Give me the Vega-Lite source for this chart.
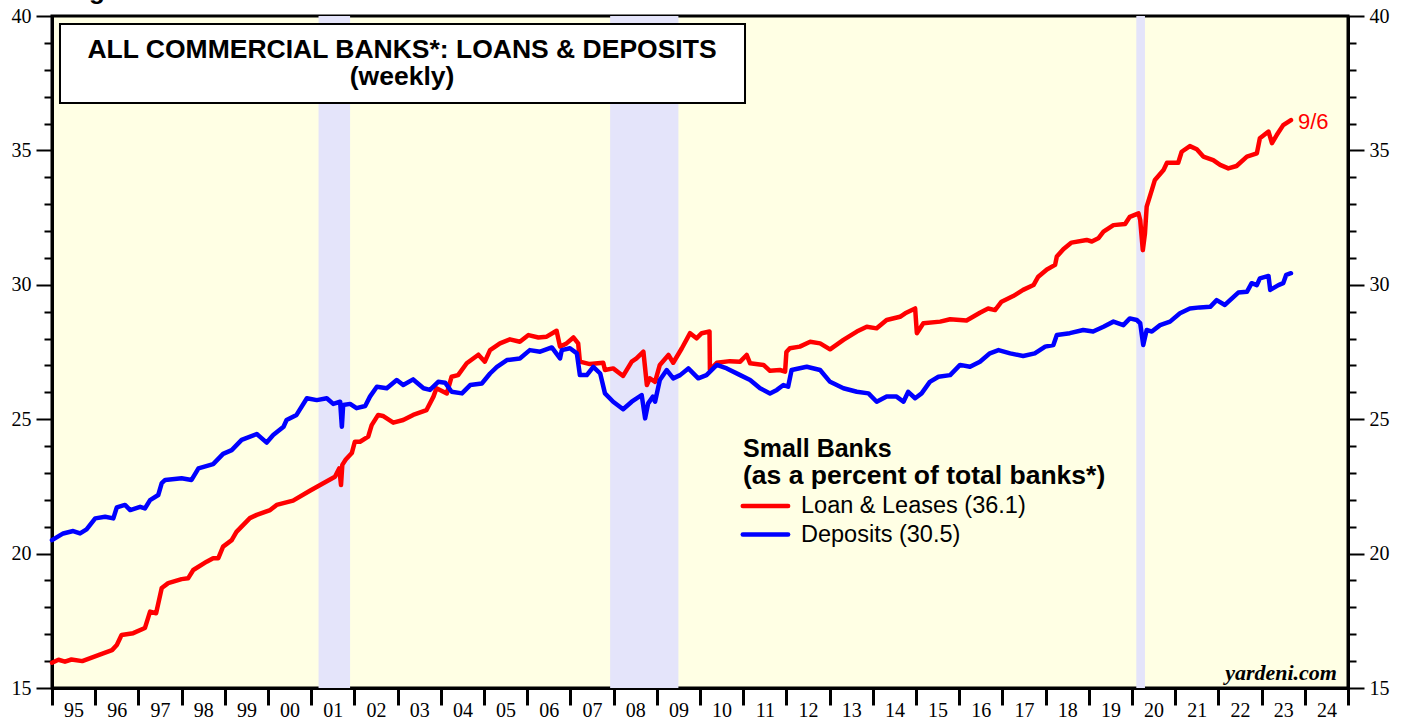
{
  "$schema": "https://vega.github.io/schema/vega-lite/v6.json",
  "width": 1296,
  "height": 672,
  "autosize": {"type": "none"},
  "padding": {"left": 52, "top": 16, "right": 65, "bottom": 31},
  "background": "white",
  "config": {
    "view": {"stroke": "black", "strokeWidth": 3, "fill": "#FFFFE4"},
    "axis": {"grid": false, "title": null, "domainColor": "black", "domainWidth": 3, "tickColor": "black", "labelColor": "black", "labelFont": "Liberation Serif", "labelFontSize": 20, "labelOverlap": false, "labelFlush": false}
  },
  "datasets": {
    "recessions": [
      {"start": 2001.17, "end": 2001.9},
      {"start": 2007.92, "end": 2009.5},
      {"start": 2020.1, "end": 2020.3}
    ],
    "banks": [
      {"year": 1995.0, "series": "Loans", "value": 15.94},
      {"year": 1995.15, "series": "Loans", "value": 16.05},
      {"year": 1995.3, "series": "Loans", "value": 15.98},
      {"year": 1995.45, "series": "Loans", "value": 16.06},
      {"year": 1995.7, "series": "Loans", "value": 16.0},
      {"year": 1995.95, "series": "Loans", "value": 16.15},
      {"year": 1996.2, "series": "Loans", "value": 16.3},
      {"year": 1996.39, "series": "Loans", "value": 16.41},
      {"year": 1996.5, "series": "Loans", "value": 16.6},
      {"year": 1996.61, "series": "Loans", "value": 16.97},
      {"year": 1996.88, "series": "Loans", "value": 17.04},
      {"year": 1997.15, "series": "Loans", "value": 17.23},
      {"year": 1997.27, "series": "Loans", "value": 17.84},
      {"year": 1997.41, "series": "Loans", "value": 17.78},
      {"year": 1997.54, "series": "Loans", "value": 18.72},
      {"year": 1997.69, "series": "Loans", "value": 18.9},
      {"year": 1998.0, "series": "Loans", "value": 19.05},
      {"year": 1998.15, "series": "Loans", "value": 19.08},
      {"year": 1998.27, "series": "Loans", "value": 19.39},
      {"year": 1998.58, "series": "Loans", "value": 19.7},
      {"year": 1998.73, "series": "Loans", "value": 19.83},
      {"year": 1998.85, "series": "Loans", "value": 19.83},
      {"year": 1998.96, "series": "Loans", "value": 20.26},
      {"year": 1999.16, "series": "Loans", "value": 20.5},
      {"year": 1999.27, "series": "Loans", "value": 20.81},
      {"year": 1999.58, "series": "Loans", "value": 21.32},
      {"year": 1999.74, "series": "Loans", "value": 21.44},
      {"year": 2000.05, "series": "Loans", "value": 21.62},
      {"year": 2000.2, "series": "Loans", "value": 21.81},
      {"year": 2000.58, "series": "Loans", "value": 21.97},
      {"year": 2000.97, "series": "Loans", "value": 22.34},
      {"year": 2001.28, "series": "Loans", "value": 22.62},
      {"year": 2001.55, "series": "Loans", "value": 22.86},
      {"year": 2001.65, "series": "Loans", "value": 23.17},
      {"year": 2001.69, "series": "Loans", "value": 22.55},
      {"year": 2001.72, "series": "Loans", "value": 23.3},
      {"year": 2001.8, "series": "Loans", "value": 23.5},
      {"year": 2001.94, "series": "Loans", "value": 23.74},
      {"year": 2002.01, "series": "Loans", "value": 24.16},
      {"year": 2002.13, "series": "Loans", "value": 24.16},
      {"year": 2002.32, "series": "Loans", "value": 24.35},
      {"year": 2002.4, "series": "Loans", "value": 24.78},
      {"year": 2002.55, "series": "Loans", "value": 25.16},
      {"year": 2002.66, "series": "Loans", "value": 25.12},
      {"year": 2002.9, "series": "Loans", "value": 24.87},
      {"year": 2003.13, "series": "Loans", "value": 24.97},
      {"year": 2003.36, "series": "Loans", "value": 25.16},
      {"year": 2003.67, "series": "Loans", "value": 25.34},
      {"year": 2003.83, "series": "Loans", "value": 25.84},
      {"year": 2003.9, "series": "Loans", "value": 26.15},
      {"year": 2004.14, "series": "Loans", "value": 25.96},
      {"year": 2004.25, "series": "Loans", "value": 26.58},
      {"year": 2004.4, "series": "Loans", "value": 26.64},
      {"year": 2004.6, "series": "Loans", "value": 27.08},
      {"year": 2004.87, "series": "Loans", "value": 27.4},
      {"year": 2005.02, "series": "Loans", "value": 27.14},
      {"year": 2005.14, "series": "Loans", "value": 27.57},
      {"year": 2005.37, "series": "Loans", "value": 27.82},
      {"year": 2005.6, "series": "Loans", "value": 27.97},
      {"year": 2005.83, "series": "Loans", "value": 27.88},
      {"year": 2006.03, "series": "Loans", "value": 28.13},
      {"year": 2006.26, "series": "Loans", "value": 28.04},
      {"year": 2006.45, "series": "Loans", "value": 28.07},
      {"year": 2006.68, "series": "Loans", "value": 28.29},
      {"year": 2006.76, "series": "Loans", "value": 27.7},
      {"year": 2006.91, "series": "Loans", "value": 27.82},
      {"year": 2007.07, "series": "Loans", "value": 28.04},
      {"year": 2007.18, "series": "Loans", "value": 27.82},
      {"year": 2007.22, "series": "Loans", "value": 27.14},
      {"year": 2007.45, "series": "Loans", "value": 27.05},
      {"year": 2007.76, "series": "Loans", "value": 27.1},
      {"year": 2007.8, "series": "Loans", "value": 26.83},
      {"year": 2007.99, "series": "Loans", "value": 26.89},
      {"year": 2008.22, "series": "Loans", "value": 26.61},
      {"year": 2008.42, "series": "Loans", "value": 27.14},
      {"year": 2008.53, "series": "Loans", "value": 27.26},
      {"year": 2008.69, "series": "Loans", "value": 27.51},
      {"year": 2008.77, "series": "Loans", "value": 26.27},
      {"year": 2008.84, "series": "Loans", "value": 26.52},
      {"year": 2008.96, "series": "Loans", "value": 26.39},
      {"year": 2009.07, "series": "Loans", "value": 27.02},
      {"year": 2009.27, "series": "Loans", "value": 27.39},
      {"year": 2009.38, "series": "Loans", "value": 27.1},
      {"year": 2009.58, "series": "Loans", "value": 27.64},
      {"year": 2009.77, "series": "Loans", "value": 28.2},
      {"year": 2009.92, "series": "Loans", "value": 28.01},
      {"year": 2010.04, "series": "Loans", "value": 28.2},
      {"year": 2010.22, "series": "Loans", "value": 28.26},
      {"year": 2010.23, "series": "Loans", "value": 26.83},
      {"year": 2010.39, "series": "Loans", "value": 27.1},
      {"year": 2010.69, "series": "Loans", "value": 27.16},
      {"year": 2010.93, "series": "Loans", "value": 27.14},
      {"year": 2011.08, "series": "Loans", "value": 27.39},
      {"year": 2011.16, "series": "Loans", "value": 27.08},
      {"year": 2011.47, "series": "Loans", "value": 27.02},
      {"year": 2011.62, "series": "Loans", "value": 26.8},
      {"year": 2011.85, "series": "Loans", "value": 26.83},
      {"year": 2011.97, "series": "Loans", "value": 26.77},
      {"year": 2012.0, "series": "Loans", "value": 27.5},
      {"year": 2012.08, "series": "Loans", "value": 27.64},
      {"year": 2012.31, "series": "Loans", "value": 27.7},
      {"year": 2012.55, "series": "Loans", "value": 27.88},
      {"year": 2012.78, "series": "Loans", "value": 27.82},
      {"year": 2013.01, "series": "Loans", "value": 27.6},
      {"year": 2013.32, "series": "Loans", "value": 27.95},
      {"year": 2013.63, "series": "Loans", "value": 28.26},
      {"year": 2013.86, "series": "Loans", "value": 28.44},
      {"year": 2014.09, "series": "Loans", "value": 28.38},
      {"year": 2014.32, "series": "Loans", "value": 28.69},
      {"year": 2014.63, "series": "Loans", "value": 28.81},
      {"year": 2014.75, "series": "Loans", "value": 28.94},
      {"year": 2014.98, "series": "Loans", "value": 29.12},
      {"year": 2015.02, "series": "Loans", "value": 28.2},
      {"year": 2015.17, "series": "Loans", "value": 28.57},
      {"year": 2015.56, "series": "Loans", "value": 28.63},
      {"year": 2015.79, "series": "Loans", "value": 28.72},
      {"year": 2016.17, "series": "Loans", "value": 28.67},
      {"year": 2016.48, "series": "Loans", "value": 28.96},
      {"year": 2016.67, "series": "Loans", "value": 29.12},
      {"year": 2016.83, "series": "Loans", "value": 29.06},
      {"year": 2016.98, "series": "Loans", "value": 29.37},
      {"year": 2017.25, "series": "Loans", "value": 29.58},
      {"year": 2017.48, "series": "Loans", "value": 29.81},
      {"year": 2017.72, "series": "Loans", "value": 29.99},
      {"year": 2017.83, "series": "Loans", "value": 30.3},
      {"year": 2018.03, "series": "Loans", "value": 30.57},
      {"year": 2018.22, "series": "Loans", "value": 30.74},
      {"year": 2018.26, "series": "Loans", "value": 31.05},
      {"year": 2018.41, "series": "Loans", "value": 31.32},
      {"year": 2018.6, "series": "Loans", "value": 31.57},
      {"year": 2018.95, "series": "Loans", "value": 31.67},
      {"year": 2019.07, "series": "Loans", "value": 31.61},
      {"year": 2019.22, "series": "Loans", "value": 31.73},
      {"year": 2019.34, "series": "Loans", "value": 31.98},
      {"year": 2019.57, "series": "Loans", "value": 32.22},
      {"year": 2019.84, "series": "Loans", "value": 32.26},
      {"year": 2019.95, "series": "Loans", "value": 32.53},
      {"year": 2020.15, "series": "Loans", "value": 32.66},
      {"year": 2020.19, "series": "Loans", "value": 32.41},
      {"year": 2020.25, "series": "Loans", "value": 31.29},
      {"year": 2020.3, "series": "Loans", "value": 31.91},
      {"year": 2020.34, "series": "Loans", "value": 32.91},
      {"year": 2020.46, "series": "Loans", "value": 33.53},
      {"year": 2020.53, "series": "Loans", "value": 33.9},
      {"year": 2020.73, "series": "Loans", "value": 34.27},
      {"year": 2020.81, "series": "Loans", "value": 34.54},
      {"year": 2021.07, "series": "Loans", "value": 34.54},
      {"year": 2021.15, "series": "Loans", "value": 34.95},
      {"year": 2021.34, "series": "Loans", "value": 35.16},
      {"year": 2021.5, "series": "Loans", "value": 35.04},
      {"year": 2021.65, "series": "Loans", "value": 34.77},
      {"year": 2021.88, "series": "Loans", "value": 34.64},
      {"year": 2022.04, "series": "Loans", "value": 34.46},
      {"year": 2022.23, "series": "Loans", "value": 34.33},
      {"year": 2022.42, "series": "Loans", "value": 34.42},
      {"year": 2022.66, "series": "Loans", "value": 34.77},
      {"year": 2022.89, "series": "Loans", "value": 34.89},
      {"year": 2022.96, "series": "Loans", "value": 35.45},
      {"year": 2023.16, "series": "Loans", "value": 35.7},
      {"year": 2023.24, "series": "Loans", "value": 35.27},
      {"year": 2023.35, "series": "Loans", "value": 35.57},
      {"year": 2023.5, "series": "Loans", "value": 35.94},
      {"year": 2023.68, "series": "Loans", "value": 36.13},
      {"year": 1995.0, "series": "Deposits", "value": 20.5},
      {"year": 1995.26, "series": "Deposits", "value": 20.75},
      {"year": 1995.49, "series": "Deposits", "value": 20.84},
      {"year": 1995.65, "series": "Deposits", "value": 20.75},
      {"year": 1995.8, "series": "Deposits", "value": 20.9},
      {"year": 1996.0, "series": "Deposits", "value": 21.31},
      {"year": 1996.23, "series": "Deposits", "value": 21.37},
      {"year": 1996.42, "series": "Deposits", "value": 21.31},
      {"year": 1996.5, "series": "Deposits", "value": 21.72},
      {"year": 1996.69, "series": "Deposits", "value": 21.81},
      {"year": 1996.81, "series": "Deposits", "value": 21.62},
      {"year": 1997.04, "series": "Deposits", "value": 21.74},
      {"year": 1997.15, "series": "Deposits", "value": 21.68},
      {"year": 1997.27, "series": "Deposits", "value": 21.99},
      {"year": 1997.46, "series": "Deposits", "value": 22.18},
      {"year": 1997.54, "series": "Deposits", "value": 22.62},
      {"year": 1997.62, "series": "Deposits", "value": 22.74},
      {"year": 1998.0, "series": "Deposits", "value": 22.8},
      {"year": 1998.23, "series": "Deposits", "value": 22.74},
      {"year": 1998.39, "series": "Deposits", "value": 23.17},
      {"year": 1998.73, "series": "Deposits", "value": 23.33},
      {"year": 1998.96, "series": "Deposits", "value": 23.71},
      {"year": 1999.16, "series": "Deposits", "value": 23.85},
      {"year": 1999.39, "series": "Deposits", "value": 24.23},
      {"year": 1999.74, "series": "Deposits", "value": 24.45},
      {"year": 1999.81, "series": "Deposits", "value": 24.35},
      {"year": 1999.97, "series": "Deposits", "value": 24.13},
      {"year": 2000.12, "series": "Deposits", "value": 24.41},
      {"year": 2000.36, "series": "Deposits", "value": 24.72},
      {"year": 2000.43, "series": "Deposits", "value": 24.97},
      {"year": 2000.66, "series": "Deposits", "value": 25.16},
      {"year": 2000.9, "series": "Deposits", "value": 25.78},
      {"year": 2001.13, "series": "Deposits", "value": 25.71},
      {"year": 2001.36, "series": "Deposits", "value": 25.78},
      {"year": 2001.51, "series": "Deposits", "value": 25.57},
      {"year": 2001.67, "series": "Deposits", "value": 25.65},
      {"year": 2001.71, "series": "Deposits", "value": 24.72},
      {"year": 2001.74, "series": "Deposits", "value": 25.53},
      {"year": 2001.9, "series": "Deposits", "value": 25.57},
      {"year": 2002.05, "series": "Deposits", "value": 25.41},
      {"year": 2002.25, "series": "Deposits", "value": 25.49},
      {"year": 2002.36, "series": "Deposits", "value": 25.84},
      {"year": 2002.52, "series": "Deposits", "value": 26.21},
      {"year": 2002.75, "series": "Deposits", "value": 26.15},
      {"year": 2002.98, "series": "Deposits", "value": 26.46},
      {"year": 2003.13, "series": "Deposits", "value": 26.27},
      {"year": 2003.36, "series": "Deposits", "value": 26.48},
      {"year": 2003.6, "series": "Deposits", "value": 26.15},
      {"year": 2003.75, "series": "Deposits", "value": 26.09},
      {"year": 2003.94, "series": "Deposits", "value": 26.39},
      {"year": 2004.1, "series": "Deposits", "value": 26.36},
      {"year": 2004.25, "series": "Deposits", "value": 26.02},
      {"year": 2004.49, "series": "Deposits", "value": 25.96},
      {"year": 2004.68, "series": "Deposits", "value": 26.27},
      {"year": 2004.95, "series": "Deposits", "value": 26.33},
      {"year": 2005.14, "series": "Deposits", "value": 26.7},
      {"year": 2005.3, "series": "Deposits", "value": 26.95},
      {"year": 2005.53, "series": "Deposits", "value": 27.2},
      {"year": 2005.83, "series": "Deposits", "value": 27.26},
      {"year": 2006.06, "series": "Deposits", "value": 27.57},
      {"year": 2006.3, "series": "Deposits", "value": 27.51},
      {"year": 2006.57, "series": "Deposits", "value": 27.67},
      {"year": 2006.76, "series": "Deposits", "value": 27.26},
      {"year": 2006.8, "series": "Deposits", "value": 27.57},
      {"year": 2006.99, "series": "Deposits", "value": 27.64},
      {"year": 2007.15, "series": "Deposits", "value": 27.45},
      {"year": 2007.22, "series": "Deposits", "value": 26.64},
      {"year": 2007.38, "series": "Deposits", "value": 26.64},
      {"year": 2007.53, "series": "Deposits", "value": 26.95},
      {"year": 2007.69, "series": "Deposits", "value": 26.7},
      {"year": 2007.8, "series": "Deposits", "value": 25.96},
      {"year": 2007.99, "series": "Deposits", "value": 25.65},
      {"year": 2008.22, "series": "Deposits", "value": 25.37},
      {"year": 2008.42, "series": "Deposits", "value": 25.65},
      {"year": 2008.65, "series": "Deposits", "value": 25.9},
      {"year": 2008.73, "series": "Deposits", "value": 25.03},
      {"year": 2008.8, "series": "Deposits", "value": 25.59},
      {"year": 2008.91, "series": "Deposits", "value": 25.84},
      {"year": 2008.96, "series": "Deposits", "value": 25.65},
      {"year": 2009.07, "series": "Deposits", "value": 26.46},
      {"year": 2009.23, "series": "Deposits", "value": 26.83},
      {"year": 2009.38, "series": "Deposits", "value": 26.52},
      {"year": 2009.54, "series": "Deposits", "value": 26.64},
      {"year": 2009.73, "series": "Deposits", "value": 26.89},
      {"year": 2009.96, "series": "Deposits", "value": 26.52},
      {"year": 2010.15, "series": "Deposits", "value": 26.64},
      {"year": 2010.39, "series": "Deposits", "value": 27.02},
      {"year": 2010.62, "series": "Deposits", "value": 26.89},
      {"year": 2010.93, "series": "Deposits", "value": 26.64},
      {"year": 2011.16, "series": "Deposits", "value": 26.46},
      {"year": 2011.39, "series": "Deposits", "value": 26.15},
      {"year": 2011.62, "series": "Deposits", "value": 25.96},
      {"year": 2011.78, "series": "Deposits", "value": 26.09},
      {"year": 2011.93, "series": "Deposits", "value": 26.27},
      {"year": 2012.04, "series": "Deposits", "value": 26.21},
      {"year": 2012.12, "series": "Deposits", "value": 26.83},
      {"year": 2012.47, "series": "Deposits", "value": 26.95},
      {"year": 2012.78, "series": "Deposits", "value": 26.83},
      {"year": 2013.01, "series": "Deposits", "value": 26.39},
      {"year": 2013.32, "series": "Deposits", "value": 26.15},
      {"year": 2013.63, "series": "Deposits", "value": 26.02},
      {"year": 2013.9, "series": "Deposits", "value": 25.96},
      {"year": 2014.09, "series": "Deposits", "value": 25.65},
      {"year": 2014.32, "series": "Deposits", "value": 25.84},
      {"year": 2014.55, "series": "Deposits", "value": 25.84},
      {"year": 2014.71, "series": "Deposits", "value": 25.65},
      {"year": 2014.82, "series": "Deposits", "value": 26.02},
      {"year": 2014.98, "series": "Deposits", "value": 25.78},
      {"year": 2015.13, "series": "Deposits", "value": 25.96},
      {"year": 2015.32, "series": "Deposits", "value": 26.39},
      {"year": 2015.52, "series": "Deposits", "value": 26.58},
      {"year": 2015.79, "series": "Deposits", "value": 26.64},
      {"year": 2016.02, "series": "Deposits", "value": 27.02},
      {"year": 2016.25, "series": "Deposits", "value": 26.95},
      {"year": 2016.48, "series": "Deposits", "value": 27.14},
      {"year": 2016.71, "series": "Deposits", "value": 27.45},
      {"year": 2016.91, "series": "Deposits", "value": 27.57},
      {"year": 2017.18, "series": "Deposits", "value": 27.45},
      {"year": 2017.48, "series": "Deposits", "value": 27.35},
      {"year": 2017.75, "series": "Deposits", "value": 27.45},
      {"year": 2017.99, "series": "Deposits", "value": 27.7},
      {"year": 2018.18, "series": "Deposits", "value": 27.76},
      {"year": 2018.26, "series": "Deposits", "value": 28.13},
      {"year": 2018.56, "series": "Deposits", "value": 28.2},
      {"year": 2018.87, "series": "Deposits", "value": 28.32},
      {"year": 2019.1, "series": "Deposits", "value": 28.26},
      {"year": 2019.34, "series": "Deposits", "value": 28.44},
      {"year": 2019.57, "series": "Deposits", "value": 28.63},
      {"year": 2019.8, "series": "Deposits", "value": 28.5},
      {"year": 2019.95, "series": "Deposits", "value": 28.75},
      {"year": 2020.11, "series": "Deposits", "value": 28.69},
      {"year": 2020.19, "series": "Deposits", "value": 28.57},
      {"year": 2020.26, "series": "Deposits", "value": 27.76},
      {"year": 2020.34, "series": "Deposits", "value": 28.32},
      {"year": 2020.46, "series": "Deposits", "value": 28.26},
      {"year": 2020.65, "series": "Deposits", "value": 28.5},
      {"year": 2020.88, "series": "Deposits", "value": 28.63},
      {"year": 2021.11, "series": "Deposits", "value": 28.94},
      {"year": 2021.34, "series": "Deposits", "value": 29.12},
      {"year": 2021.57, "series": "Deposits", "value": 29.16},
      {"year": 2021.81, "series": "Deposits", "value": 29.18},
      {"year": 2021.96, "series": "Deposits", "value": 29.43},
      {"year": 2022.15, "series": "Deposits", "value": 29.25},
      {"year": 2022.27, "series": "Deposits", "value": 29.43},
      {"year": 2022.46, "series": "Deposits", "value": 29.71},
      {"year": 2022.66, "series": "Deposits", "value": 29.74},
      {"year": 2022.77, "series": "Deposits", "value": 30.06},
      {"year": 2022.89, "series": "Deposits", "value": 29.99},
      {"year": 2022.96, "series": "Deposits", "value": 30.24},
      {"year": 2023.16, "series": "Deposits", "value": 30.33},
      {"year": 2023.2, "series": "Deposits", "value": 29.81},
      {"year": 2023.39, "series": "Deposits", "value": 29.99},
      {"year": 2023.5, "series": "Deposits", "value": 30.06},
      {"year": 2023.57, "series": "Deposits", "value": 30.37},
      {"year": 2023.68, "series": "Deposits", "value": 30.43}
    ],
    "last": [
      {"year": 2023.68, "value": 36.13, "label": "9/6"}
    ],
    "one": [{}]
  },
  "resolve": {"axis": {"x": "independent", "y": "independent"}},
  "layer": [
    {
      "data": {"name": "recessions"},
      "mark": {"type": "rect", "color": "#E4E4FA"},
      "encoding": {
        "x": {"field": "start", "type": "quantitative", "scale": {"domain": [1995, 2025], "nice": false, "zero": false}, "axis": null},
        "x2": {"field": "end"}
      }
    },
    {
      "data": {"name": "one"},
      "mark": {"type": "rect", "fill": "white", "stroke": "black", "strokeWidth": 2},
      "encoding": {
        "x": {"datum": 1995.185, "type": "quantitative", "scale": {"domain": [1995, 2025], "nice": false, "zero": false}, "axis": null},
        "x2": {"datum": 2011.042},
        "y": {"datum": 39.702, "type": "quantitative", "scale": {"domain": [15, 40], "nice": false, "zero": false}, "axis": null},
        "y2": {"datum": 36.763}
      }
    },
    {
      "data": {"name": "one"},
      "mark": {"type": "text", "text": ["ALL COMMERCIAL BANKS*: LOANS & DEPOSITS", "(weekly)"], "font": "Liberation Sans", "fontWeight": "bold", "fontSize": 26.5, "lineHeight": 27, "align": "center", "baseline": "alphabetic", "color": "black"},
      "encoding": {
        "x": {"datum": 2003.102, "type": "quantitative", "scale": {"domain": [1995, 2025], "nice": false, "zero": false}, "axis": null},
        "y": {"datum": 38.44, "type": "quantitative", "scale": {"domain": [15, 40], "nice": false, "zero": false}, "axis": null}
      }
    },
    {
      "data": {"name": "banks"},
      "mark": {"type": "line", "strokeWidth": 4.5, "interpolate": "linear", "strokeJoin": "round", "strokeCap": "round"},
      "encoding": {
        "x": {
          "field": "year", "type": "quantitative",
          "scale": {"domain": [1995, 2025], "nice": false, "zero": false},
          "axis": {
            "orient": "bottom",
            "values": [1995, 1996, 1997, 1998, 1999, 2000, 2001, 2002, 2003, 2004, 2005, 2006, 2007, 2008, 2009, 2010, 2011, 2012, 2013, 2014, 2015, 2016, 2017, 2018, 2019, 2020, 2021, 2022, 2023, 2024, 2025],
            "labelExpr": "datum.value < 2025 ? (datum.value % 100 < 10 ? '0' : '') + (datum.value % 100) : ''",
            "labelOffset": 21.6,
            "tickSize": 17,
            "tickWidth": 3,
            "labelPadding": -5
          }
        },
        "y": {
          "field": "value", "type": "quantitative",
          "scale": {"domain": [15, 40], "nice": false, "zero": false},
          "axis": {
            "orient": "left",
            "values": [15, 16, 17, 18, 19, 20, 21, 22, 23, 24, 25, 26, 27, 28, 29, 30, 31, 32, 33, 34, 35, 36, 37, 38, 39, 40],
            "tickSize": {"condition": {"test": "datum.value % 5 === 0", "value": 16}, "value": 8},
            "tickWidth": 2,
            "labelExpr": "datum.value % 5 === 0 ? datum.label : ''",
            "labelPadding": 5
          }
        },
        "color": {"field": "series", "type": "nominal", "scale": {"domain": ["Loans", "Deposits"], "range": ["#FF0000", "#0000FF"]}, "legend": null}
      }
    },
    {
      "data": {"name": "last"},
      "mark": {"type": "text", "color": "#FF0000", "font": "Liberation Sans", "fontSize": 22, "align": "left", "baseline": "middle", "dx": 7, "dy": 2},
      "encoding": {
        "x": {"field": "year", "type": "quantitative", "scale": {"domain": [1995, 2025], "nice": false, "zero": false}, "axis": null},
        "y": {
          "field": "value", "type": "quantitative",
          "scale": {"domain": [15, 40], "nice": false, "zero": false},
          "axis": {
            "orient": "right",
            "values": [15, 16, 17, 18, 19, 20, 21, 22, 23, 24, 25, 26, 27, 28, 29, 30, 31, 32, 33, 34, 35, 36, 37, 38, 39, 40],
            "tickSize": {"condition": {"test": "datum.value % 5 === 0", "value": 16}, "value": 8},
            "tickWidth": 2,
            "labelExpr": "datum.value % 5 === 0 ? datum.label : ''",
            "labelPadding": 5
          }
        },
        "text": {"field": "label"}
      }
    },
    {
      "data": {"name": "one"},
      "mark": {"type": "text", "text": "Small Banks", "font": "Liberation Sans", "fontWeight": "bold", "fontSize": 25, "align": "left", "baseline": "alphabetic", "color": "black"},
      "encoding": {
        "x": {"datum": 2010.995, "type": "quantitative", "scale": {"domain": [1995, 2025], "nice": false, "zero": false}, "axis": null},
        "y": {"datum": 23.594, "type": "quantitative", "scale": {"domain": [15, 40], "nice": false, "zero": false}, "axis": null}
      }
    },
    {
      "data": {"name": "one"},
      "mark": {"type": "text", "text": "(as a percent of total banks*)", "font": "Liberation Sans", "fontWeight": "bold", "fontSize": 26.5, "align": "left", "baseline": "alphabetic", "color": "black"},
      "encoding": {
        "x": {"datum": 2010.995, "type": "quantitative", "scale": {"domain": [1995, 2025], "nice": false, "zero": false}, "axis": null},
        "y": {"datum": 22.6, "type": "quantitative", "scale": {"domain": [15, 40], "nice": false, "zero": false}, "axis": null}
      }
    },
    {
      "data": {"name": "one"},
      "mark": {"type": "rule", "color": "#FF0000", "strokeWidth": 4.5, "strokeCap": "round"},
      "encoding": {
        "x": {"datum": 2010.99, "type": "quantitative", "scale": {"domain": [1995, 2025], "nice": false, "zero": false}, "axis": null},
        "x2": {"datum": 2012.04},
        "y": {"datum": 21.771, "type": "quantitative", "scale": {"domain": [15, 40], "nice": false, "zero": false}, "axis": null}
      }
    },
    {
      "data": {"name": "one"},
      "mark": {"type": "rule", "color": "#0000FF", "strokeWidth": 4.5, "strokeCap": "round"},
      "encoding": {
        "x": {"datum": 2010.99, "type": "quantitative", "scale": {"domain": [1995, 2025], "nice": false, "zero": false}, "axis": null},
        "x2": {"datum": 2012.04},
        "y": {"datum": 20.711, "type": "quantitative", "scale": {"domain": [15, 40], "nice": false, "zero": false}, "axis": null}
      }
    },
    {
      "data": {"name": "one"},
      "mark": {"type": "text", "text": "Loan & Leases (36.1)", "font": "Liberation Sans", "fontSize": 23.5, "align": "left", "baseline": "alphabetic", "color": "black"},
      "encoding": {
        "x": {"datum": 2012.338, "type": "quantitative", "scale": {"domain": [1995, 2025], "nice": false, "zero": false}, "axis": null},
        "y": {"datum": 21.51, "type": "quantitative", "scale": {"domain": [15, 40], "nice": false, "zero": false}, "axis": null}
      }
    },
    {
      "data": {"name": "one"},
      "mark": {"type": "text", "text": "Deposits (30.5)", "font": "Liberation Sans", "fontSize": 23.5, "align": "left", "baseline": "alphabetic", "color": "black"},
      "encoding": {
        "x": {"datum": 2012.338, "type": "quantitative", "scale": {"domain": [1995, 2025], "nice": false, "zero": false}, "axis": null},
        "y": {"datum": 20.432, "type": "quantitative", "scale": {"domain": [15, 40], "nice": false, "zero": false}, "axis": null}
      }
    },
    {
      "data": {"name": "one"},
      "mark": {"type": "text", "text": "yardeni.com", "font": "Liberation Serif", "fontWeight": "bold", "fontStyle": "italic", "fontSize": 22, "align": "right", "baseline": "alphabetic", "color": "black"},
      "encoding": {
        "x": {"datum": 2024.745, "type": "quantitative", "scale": {"domain": [1995, 2025], "nice": false, "zero": false}, "axis": null},
        "y": {"datum": 15.298, "type": "quantitative", "scale": {"domain": [15, 40], "nice": false, "zero": false}, "axis": null}
      }
    },
    {
      "data": {"name": "one"},
      "mark": {"type": "text", "text": "Figure 8.", "font": "Liberation Sans", "fontWeight": "bold", "fontSize": 26, "align": "left", "baseline": "alphabetic", "color": "black", "dy": -17},
      "encoding": {
        "x": {"datum": 1995.32, "type": "quantitative", "scale": {"domain": [1995, 2025], "nice": false, "zero": false}, "axis": null},
        "y": {"datum": 40, "type": "quantitative", "scale": {"domain": [15, 40], "nice": false, "zero": false}, "axis": null}
      }
    }
  ]
}
